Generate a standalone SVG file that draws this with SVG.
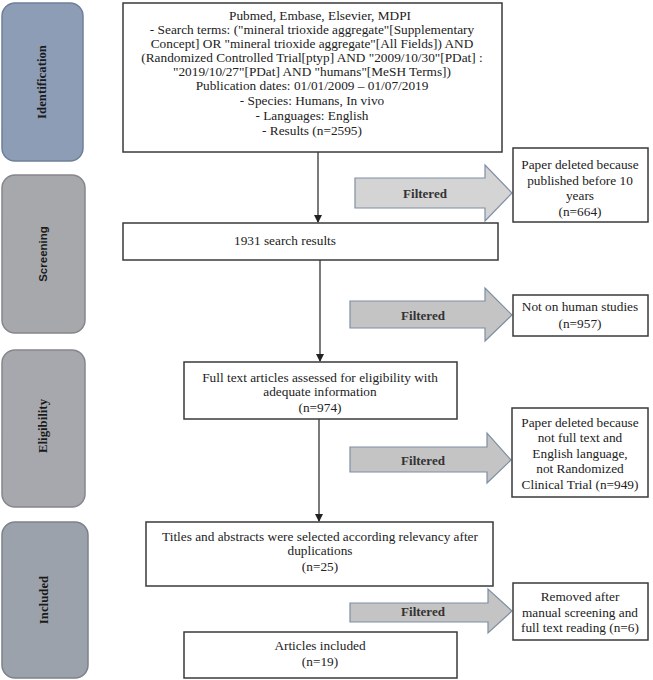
<svg xmlns="http://www.w3.org/2000/svg" width="653" height="680" viewBox="0 0 653 680">
<style>
.stage{stroke-width:1.5}
.stxt{font-family:"Liberation Serif","Times New Roman",serif;font-weight:bold;font-size:12.8px;fill:#1a1a1a;text-anchor:middle;dominant-baseline:central}
.box{fill:#fff;stroke:#3a3a3a;stroke-width:1.5}
.t{font-family:"Liberation Serif","Times New Roman",serif;font-size:13.3px;fill:#222;text-anchor:middle;dominant-baseline:central}
.farrow{fill:#c4c4c4;stroke:#7f8ea3;stroke-width:1.2}
.ft{font-family:"Liberation Serif","Times New Roman",serif;font-weight:bold;font-size:13px;fill:#333;text-anchor:middle;dominant-baseline:central}
.conn{stroke:#222;stroke-width:1.2;fill:none}
</style>
<defs>
<marker id="ah" markerWidth="8" markerHeight="8" refX="7" refY="4" orient="auto" markerUnits="userSpaceOnUse">
<path d="M0,0 L8,4 L0,8 z" fill="#222"/>
</marker>
</defs>
<rect width="653" height="680" fill="#fff"/>

<g id="stage-identification">
<rect class="stage" x="2" y="3" width="81" height="158" rx="13" fill="#8d9db6" stroke="#6f7f98"/>
<text class="stxt" transform="translate(42,82) rotate(-90)">Identification</text>
</g>
<g id="stage-screening">
<rect class="stage" x="2" y="175" width="83" height="158" rx="13" fill="#a7a8ac" stroke="#86878c"/>
<text class="stxt" style="font-family:'Liberation Sans',Arial,sans-serif;font-size:11.5px" transform="translate(43,254) rotate(-90)">Screening</text>
</g>
<g id="stage-eligibility">
<rect class="stage" x="2" y="350" width="83" height="157" rx="13" fill="#a7a8ad" stroke="#86878c"/>
<text class="stxt" transform="translate(43,426) rotate(-90)">Eligibility</text>
</g>
<g id="stage-included">
<rect class="stage" x="2" y="522" width="86" height="156" rx="13" fill="#9ca2ac" stroke="#7c828c"/>
<text class="stxt" transform="translate(44,600) rotate(-90)">Included</text>
</g>

<g id="connectors">
<line class="conn" x1="318" y1="152" x2="318" y2="222" marker-end="url(#ah)"/>
<line class="conn" x1="320" y1="260" x2="320" y2="361" marker-end="url(#ah)"/>
<line class="conn" x1="319" y1="419" x2="319" y2="521" marker-end="url(#ah)"/>
<g id="filter1">
<path class="farrow" style="fill:#d4d4d4" d="M355,178 H485 V165 L512,193 L485,221 V208 H355 Z"/>
<text class="ft" x="425" y="193">Filtered</text>
</g>
<g id="filter2">
<path class="farrow" d="M350,301 H485 V288 L512,315 L485,341 V328 H350 Z"/>
<text class="ft" x="423" y="315">Filtered</text>
</g>
<g id="filter3">
<path class="farrow" d="M350,447 H487 V433 L511,460 L487,483 V472 H350 Z"/>
<text class="ft" x="423" y="460">Filtered</text>
</g>
<g id="filter4">
<path class="farrow" d="M350,603 H488 V589 L512,611 L488,633 V622 H350 Z"/>
<text class="ft" x="423" y="611">Filtered</text>
</g>
</g>

<g id="search">
<rect class="box" x="123" y="3" width="379" height="149"/>
<text class="t" x="320" y="15">Pubmed, Embase, Elsevier, MDPI</text>
<text class="t" x="312" y="29">- Search terms: ("mineral trioxide aggregate"[Supplementary</text>
<text class="t" x="312" y="43">Concept] OR "mineral trioxide aggregate"[All Fields]) AND</text>
<text class="t" x="312" y="57">(Randomized Controlled Trial[ptyp] AND "2009/10/30"[PDat] :</text>
<text class="t" x="312" y="71">"2019/10/27"[PDat] AND "humans"[MeSH Terms])</text>
<text class="t" x="312" y="85">Publication dates: 01/01/2009 – 01/07/2019</text>
<text class="t" x="312" y="100">- Species: Humans, In vivo</text>
<text class="t" x="312" y="115">- Languages: English</text>
<text class="t" x="312" y="130">- Results (n=2595)</text>
</g>

<g id="excl1">
<rect class="box" x="513" y="148" width="135" height="74"/>
<text class="t" x="580" y="164">Paper deleted because</text>
<text class="t" x="580" y="180">published before 10</text>
<text class="t" x="580" y="195">years</text>
<text class="t" x="580" y="211">(n=664)</text>
</g>

<g id="screen">
<rect class="box" x="123" y="223" width="375" height="37"/>
<text class="t" x="285" y="240">1931 search results</text>
</g>

<g id="excl2">
<rect class="box" x="513" y="295" width="135" height="41"/>
<text class="t" x="580" y="306">Not on human studies</text>
<text class="t" x="580" y="323">(n=957)</text>
</g>

<g id="fulltext">
<rect class="box" x="184" y="362" width="273" height="57"/>
<text class="t" x="320" y="377">Full text articles assessed for eligibility with</text>
<text class="t" x="320" y="391">adequate information</text>
<text class="t" x="320" y="407">(n=974)</text>
</g>

<g id="excl3">
<rect class="box" x="512" y="408" width="136" height="89"/>
<text class="t" x="580" y="422">Paper deleted because</text>
<text class="t" x="580" y="437">not full text and</text>
<text class="t" x="580" y="453">English language,</text>
<text class="t" x="580" y="468">not Randomized</text>
<text class="t" x="580" y="484">Clinical Trial (n=949)</text>
</g>

<g id="titles">
<rect class="box" x="146" y="522" width="347" height="64"/>
<text class="t" x="320" y="536">Titles and abstracts were selected according relevancy after</text>
<text class="t" x="320" y="550">duplications</text>
<text class="t" x="320" y="566">(n=25)</text>
</g>

<g id="excl4">
<rect class="box" x="513" y="583" width="135" height="57"/>
<text class="t" x="580" y="596">Removed after</text>
<text class="t" x="580" y="612">manual screening and</text>
<text class="t" x="580" y="627">full text reading (n=6)</text>
</g>

<g id="included">
<rect class="box" x="184" y="632" width="273" height="46"/>
<text class="t" x="320" y="645">Articles included</text>
<text class="t" x="320" y="661">(n=19)</text>
</g>
</svg>
